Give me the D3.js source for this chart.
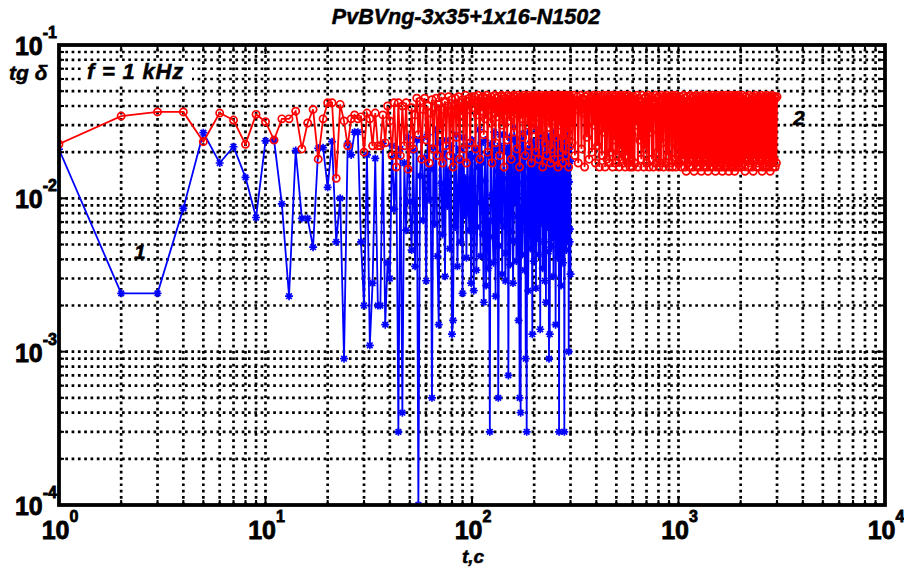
<!DOCTYPE html>
<html>
<head>
<meta charset="utf-8">
<script src="https://cdn.jsdelivr.net/npm/d3@7"></script>
<style>
  body { margin: 0; background: #fff; }
</style>
</head>
<body>
<div id="chart"></div>
<script>
// axis decades and their exponent labels
const xMajor = [1, 10, 100, 1000, 10000];
const xExp = ["0", "1", "2", "3", "4"];
const yMajor = [1e-4, 1e-3, 1e-2, 1e-1];
const yExp = ["-4", "-3", "-2", "-1"];

const tHead = [1,2,3,4,5,6,7,8,9,10,11,12,13,14,15,16,17,18,19,20,21,22,23,24,25,26,27,28,29,30,31,32,33,34,35,36,37,38,39,40,41,42,43,44,45,46,47,48,49,50,51,52,53,54,55,56,57,58,59,60,61,62,63,64,65,66,67,68,69,70,71,72,73,74,75,76,77,78,79,80,81,82,83,84,85,86,87,88,89,90,91,92,93,94,95,96,97,98,99,100];
const tSec = [101,102,103,104,105,106,107,108,109,110,111,112,113,114,115,116,117,118,119,120,121,122,123,124,125,126,127,128,129,130,131,132,133,134,135,136,137,138,139,140,141,142,143,144,145,146,147,148,149,150,151,152,153,154,155,156,157,158,159,160,161,162,163,164,165,166,167,168,169,170,171,172,173,174,175,176,177,178,179,180,181,182,183,184,185,186,187,188,189,190,191,192,193,194,195,196,197,198,199,200,201,202,203,204,205,206,207,208,209,210,211,212,213,214,215,216,217,218,219,220,221,222,223,224,225,226,227,228,229,230,231,232,233,234,235,236,237,238,239,240,241,242,243,244,245,246,247,248,249,250,251,252,253,254,255,256,257,258,259,260,261,262,263,264,265,266,267,268,269,270,271,272,273,274,275,276,277,278,279,280,281,282,283,284,285,286,287,288,289,290,291,292,293,294,295,296,297,298,299,300];
const tRed2 = [303,306,309,312,315,318,321,324,327,330,333,336,339,342,345,348,351,354,357,360,363,366,369,372,375,378,381,384,387,390,393,396,399,402,405,408,411,414,417,420,423,426,429,432,435,438,441,444,447,450,453,456,459,462,465,468,471,474,477,480,483,486,489,492,495,498,501,504,507,510,513,516,519,522,525,528,531,534,537,540,543,546,549,552,555,558,561,564,567,570,573,576,579,582,585,588,591,594,597,600];
const tRed3 = [606,612,618,624,630,636,642,648,654,660,666,672,678,684,690,696,702,708,714,720,726,732,738,744,750,756,762,768,774,780,786,792,798,804,810,816,822,828,834,840,846,852,858,864,870,876,882,888,894,900,906,912,918,924,930,936,942,948,954,960,966,972,978,984,990,996];
const tEnd = [1000,1010,1020,1030,1040,1050,1060,1070,1080,1090,1100,1110,1120,1130,1140,1150,1160,1170,1180,1190,1200,1210,1220,1230,1240,1250,1260,1270,1280,1290,1300,1310,1320,1330,1340,1350,1360,1370,1380,1390,1400,1410,1420,1430,1440,1450,1460,1470,1480,1490,1500,1510,1520,1530,1540,1550,1560,1570,1580,1590,1600,1610,1620,1630,1640,1650,1660,1670,1680,1690,1700,1710,1720,1730,1740,1750,1760,1770,1780,1790,1800,1810,1820,1830,1840,1850,1860,1870,1880,1890,1900,1910,1920,1930,1940,1950,1960,1970,1980,1990,2000,2020,2040,2060,2080,2100,2120,2140,2160,2180,2200,2220,2240,2260,2280,2300,2320,2340,2360,2380,2400,2420,2440,2460,2480,2500,2520,2540,2560,2580,2600,2620,2640,2660,2680,2700,2720,2740,2760,2780,2800,2820,2840,2860,2880,2900,2920,2940,2960,2980,3000];

// curve 1 (blue, stars)
const blueHead = [.0209,.0024,.0024,.0086,.0268,.017,.0217,.0137,.0075,.0237,
  .024,.0092,.0023,.0205,.0074,.0074,.0048,.0212,.0214,.0118,
  .0234,.0052,.010,.0009,.0228,.0192,.027,.027,.0052,.002,
  .0192,.0011,.0028,.0182,.002,.002,.0228,.0015,.0038,.003,
  .022,.0085,.019,.0003,.021,.0004,.017,.0062,.025,.0095,
  .0046,.0205,.0036,.024,.0001,.014,.0245,.0072,.0185,.0029,
  .026,.0098,.0155,.0005,.0215,.0068,.028,.0042,.0015,.023,
  .0125,.0058,.0195,.0031,.024,.0089,.0152,.0047,.022,.0013,
  .0016,.0185,.0065,.026,.0036,.0115,.021,.0052,.0175,.0024,
  .025,.0078,.0135,.0041,.022,.0095,.0062,.019,.0028,.024];
const blueTail = [.012,.0025,.0185,.021,.0034,.0065,.016,.028,.0094,.0042,
  .023,.017,.0058,.0021,.013,.024,.0027,.0085,.019,.0035,
  .0071,.0003,.0225,.019,.0105,.0056,.0038,.027,.017,.0023,
  .0082,.015,.021,.0005,.0049,.022,.026,.0072,.0145,.0032,
  .0066,.026,.0205,.011,.0029,.0044,.0135,.02,.0215,.0007,
  .0092,.025,.0037,.0061,.024,.018,.0118,.0028,.0053,.029,
  .0175,.0095,.0245,.0039,.0076,.022,.0125,.0016,.0195,.0005,
  .0084,.0004,.0155,.024,.0043,.0078,.0265,.016,.0107,.0034,
  .0205,.0009,.0062,.0003,.0135,.021,.0025,.0058,.0185,.027,
  .0112,.0047,.0235,.0185,.0071,.0013,.0165,.023,.0039,.0069,
  .0215,.014,.0098,.0026,.0175,.028,.0055,.0088,.0245,.0043,
  .0128,.02,.0068,.0014,.0185,.025,.0115,.0074,.0225,.0035,
  .0081,.017,.0145,.0052,.0029,.026,.0195,.0021,.0087,.012,
  .0255,.0065,.0138,.022,.0045,.0009,.0072,.0013,.0165,.024,
  .0108,.0048,.0235,.0195,.0056,.0082,.0148,.0031,.0205,.027,
  .0093,.0057,.0175,.0015,.0062,.021,.0245,.0092,.0125,.0041,
  .0185,.023,.0078,.0003,.0215,.018,.0117,.0066,.0155,.0027,
  .0089,.025,.0195,.0105,.0058,.0038,.0135,.02,.0225,.0003,
  .0069,.022,.0165,.0079,.0245,.0046,.0112,.026,.0185,.0054,
  .0074,.016,.0215,.001,.0128,.021,.0052,.0063,.0175,.0032];

// curve 2 (red, circles)
const redHead = [.0226,.0344,.0366,.0366,.0234,.036,.0324,.0225,.0353,.0316,
  .024,.033,.033,.037,.021,.031,.038,.018,.033,.042,
  .042,.0135,.041,.032,.022,.033,.035,.033,.034,.020,
  .036,.033,.022,.036,.022,.022,.035,.023,.040,.032,
  .019,.042,.016,.042,.019,.040,.022,.042,.0155,.022,
  .039,.021,.035,.045,.026,.043,.018,.038,.045,.024,
  .040,.017,.036,.044,.021,.039,.045,.019,.041,.028,
  .046,.017,.038,.043,.022,.040,.046,.019,.037,.044,
  .016,.041,.045,.025,.039,.046,.018,.042,.035,.044,
  .021,.040,.047,.017,.043,.038,.045,.023,.041,.046];
const redSec = [.044,.039,.046,.021,.042,.035,.047,.040,.018,.045,
  .037,.043,.046,.026,.041,.033,.045,.047,.020,.042,
  .038,.044,.031,.046,.017,.043,.040,.036,.047,.023,
  .045,.041,.034,.046,.042,.019,.044,.038,.047,.030,
  .043,.046,.016,.040,.045,.035,.042,.024,.047,.039,
  .044,.032,.046,.041,.018,.045,.037,.043,.047,.027,
  .040,.046,.036,.044,.021,.042,.047,.038,.045,.016,
  .043,.039,.046,.033,.044,.025,.041,.047,.036,.045,
  .019,.042,.046,.038,.044,.030,.047,.040,.022,.045,
  .043,.035,.046,.017,.041,.044,.039,.047,.028,.042,
  .045,.037,.046,.020,.043,.040,.047,.034,.044,.018,
  .041,.046,.038,.045,.026,.042,.047,.036,.044,.016,
  .040,.045,.033,.046,.042,.023,.044,.047,.039,.019,
  .043,.046,.035,.041,.045,.029,.047,.038,.044,.017,
  .042,.046,.040,.021,.045,.037,.043,.047,.032,.044,
  .018,.041,.046,.039,.044,.025,.047,.042,.036,.045,
  .016,.043,.046,.038,.041,.030,.047,.044,.020,.042,
  .045,.035,.046,.040,.017,.043,.047,.037,.044,.024,
  .041,.046,.039,.045,.019,.042,.047,.034,.044,.027,
  .043,.046,.038,.016,.045,.040,.047,.022,.044,.041];
const redLate = [.045,.023,.042,.047,.019,.044,.038,.046,.017,.043,
  .040,.047,.021,.045,.036,.044,.016,.046,.041,.025,
  .047,.042,.018,.045,.039,.046,.020,.043,.047,.030,
  .044,.017,.046,.040,.022,.047,.043,.016,.045,.035,
  .046,.019,.042,.047,.027,.044,.016,.045,.041,.018,
  .047,.033,.043,.017,.046,.038,.020,.045,.047,.016,
  .042,.046,.024,.044,.017,.047,.040,.019,.045,.031,
  .046,.016,.043,.047,.021,.044,.018,.046,.037,.017,
  .045,.028,.047,.016,.042,.046,.019,.044,.035,.017,
  .047,.022,.045,.016,.043,.046,.018,.044,.026,.016];
const redLater = [.046,.017,.044,.030,.047,.016,.045,.024,.043,.018,
  .047,.035,.016,.045,.021,.046,.017,.040,.047,.016,
  .044,.027,.046,.018,.045,.016,.042,.033,.047,.017,
  .045,.020,.046,.016,.043,.038,.017,.047,.023,.044,
  .016,.046,.029,.045,.017,.047,.019,.044,.036,.016,
  .046,.025,.045,.017,.047,.016,.043,.031,.046,.018,
  .045,.016,.047,.022,.044,.017];
const redEnd = [.045,.017,.046,.016,.044,.018,.047,.016,.045,.015,
  .046,.017,.043,.016,.047,.018,.045,.016,.046,.015,
  .044,.017,.047,.016,.045,.018,.046,.016,.044,.015,
  .047,.017,.045,.016,.046,.018,.044,.016,.047,.015,
  .045,.017,.046,.016,.044,.018,.047,.016,.045,.017,
  .046,.015,.044,.016,.047,.018,.045,.016,.046,.017,
  .044,.016,.047,.015,.045,.018,.046,.016,.044,.017,
  .047,.016,.045,.018,.046,.015,.044,.017,.047,.016,
  .045,.018,.046,.016,.044,.017,.047,.015,.045,.016,
  .046,.018,.044,.016,.047,.017,.045,.016,.046,.018,
  .045,.016,.047,.017,.044,.015,.046,.018,.045,.016,
  .047,.017,.044,.016,.046,.015,.045,.018,.047,.016,
  .044,.017,.046,.016,.045,.018,.047,.015,.044,.016,
  .046,.017,.045,.016,.047,.018,.044,.016,.046,.015,
  .045,.017,.047,.016,.044,.018,.046,.016,.045,.017,
  .046];

const blueData = d3.zip(tHead, blueHead).concat(d3.zip(tSec, blueTail));
const redData = d3.zip(tHead, redHead).concat(
  d3.zip(tSec, redSec), d3.zip(tRed2, redLate), d3.zip(tRed3, redLater), d3.zip(tEnd, redEnd));

const width = 904, height = 570;
const box = {left: 59, right: 885, top: 45, bottom: 505};
const font = "Arial, 'Liberation Sans', Helvetica, sans-serif";

const x = d3.scaleLog().domain([1, 1e4]).range([box.left, box.right]);
const y = d3.scaleLog().domain([1e-4, 1e-1]).range([box.bottom, box.top]);

const svg = d3.select("#chart").append("svg")
  .attr("width", width)
  .attr("height", height)
  .style("font-family", font);

svg.append("clipPath").attr("id", "plotclip")
  .append("rect")
  .attr("x", box.left).attr("y", box.top - 1)
  .attr("width", box.right - box.left).attr("height", box.bottom - box.top + 2);

// dotted grid at every minor and major decade step
const grid = svg.append("g")
  .attr("stroke", "#000")
  .attr("stroke-width", 2.7)
  .attr("stroke-dasharray", "2.7,3.6");
grid.selectAll(".gx")
  .data(x.ticks().filter(d => d > 1 && d < 1e4))
  .enter().append("line")
  .attr("x1", d => x(d)).attr("x2", d => x(d))
  .attr("y1", box.bottom).attr("y2", box.top);
grid.selectAll(".gy")
  .data(y.ticks().filter(d => d > 1e-4 * 1.01 && d < 0.099))
  .enter().append("line")
  .attr("y1", d => y(d)).attr("y2", d => y(d))
  .attr("x1", box.left).attr("x2", box.right);

// white box behind the frequency note
svg.append("rect").attr("x", 84).attr("y", 61).attr("width", 108).attr("height", 22).attr("fill", "#fff");

const plot = svg.append("g").attr("clip-path", "url(#plotclip)");
const line = d3.line().x(d => x(d[0])).y(d => y(d[1]));

plot.append("path")
  .datum(blueData)
  .attr("d", line)
  .attr("fill", "none")
  .attr("stroke", "#0000ff")
  .attr("stroke-width", 1.8);

const star = "M-4,0H4M0,-4V4M-2.8,-2.8L2.8,2.8M-2.8,2.8L2.8,-2.8";
plot.append("g").selectAll("path")
  .data(blueData)
  .enter().append("path")
  .attr("d", star)
  .attr("transform", d => `translate(${x(d[0])},${y(d[1])})`)
  .attr("stroke", "#0000ff")
  .attr("stroke-width", 1.7)
  .attr("fill", "none");

plot.append("path")
  .datum(redData)
  .attr("d", line)
  .attr("fill", "none")
  .attr("stroke", "#ff0000")
  .attr("stroke-width", 1.8);

plot.append("g").selectAll("circle")
  .data(redData)
  .enter().append("circle")
  .attr("cx", d => x(d[0]))
  .attr("cy", d => y(d[1]))
  .attr("r", 3.6)
  .attr("fill", "none")
  .attr("stroke", "#ff0000")
  .attr("stroke-width", 1.7);

// ticks drawn inward on all four sides
const ticks = svg.append("g").attr("stroke", "#000").attr("stroke-width", 2);
x.ticks().forEach(d => {
  const len = xMajor.includes(d) ? 9 : 5;
  ticks.append("line").attr("x1", x(d)).attr("x2", x(d)).attr("y1", box.bottom).attr("y2", box.bottom - len);
  ticks.append("line").attr("x1", x(d)).attr("x2", x(d)).attr("y1", box.top).attr("y2", box.top + len);
});
y.ticks().forEach(d => {
  const len = yMajor.some(m => Math.abs(m - d) < m * 0.01) ? 9 : 5;
  ticks.append("line").attr("y1", y(d)).attr("y2", y(d)).attr("x1", box.left).attr("x2", box.left + len);
  ticks.append("line").attr("y1", y(d)).attr("y2", y(d)).attr("x1", box.right).attr("x2", box.right - len);
});

svg.append("rect")
  .attr("x", box.left).attr("y", box.top)
  .attr("width", box.right - box.left).attr("height", box.bottom - box.top)
  .attr("fill", "none")
  .attr("stroke", "#000")
  .attr("stroke-width", 3.8);

// tick labels 10^n, slightly emboldened like the original
const heavy = g => g.attr("font-weight", "bold").attr("fill", "#000")
  .attr("stroke", "#000").attr("stroke-width", 0.8);
const xl = svg.append("g").call(heavy);
xMajor.forEach((d, i) => {
  const t = xl.append("text").attr("x", x(d) + 1).attr("y", 539).attr("text-anchor", "middle");
  t.append("tspan").attr("font-size", 25).text("10");
  t.append("tspan").attr("font-size", 16).attr("dy", -17).text(xExp[i]);
});
const yl = svg.append("g").call(heavy);
yMajor.forEach((d, i) => {
  const t = yl.append("text").attr("x", 57).attr("y", y(d) + 10).attr("text-anchor", "end");
  t.append("tspan").attr("font-size", 25).text("10");
  t.append("tspan").attr("font-size", 16).attr("dy", -17).text(yExp[i]);
});

// titles and annotations
const notes = svg.append("g").call(heavy).attr("stroke-width", 0.5).attr("font-style", "italic");
const label = (txt, px, py, size, anchor) => notes.append("text")
  .attr("x", px).attr("y", py)
  .attr("text-anchor", anchor || "start")
  .attr("font-size", size)
  .text(txt);

label("PvBVng-3x35+1x16-N1502", 466, 24, 21.5, "middle");
label("t,c", 473, 563, 19, "middle");
label("tg δ", 9, 80, 21);
label("f = 1 kHz", 87, 79, 22).attr("letter-spacing", 0.8);
label("1", 134, 259, 21);
label("2", 793, 125, 21);
</script>
</body>
</html>
